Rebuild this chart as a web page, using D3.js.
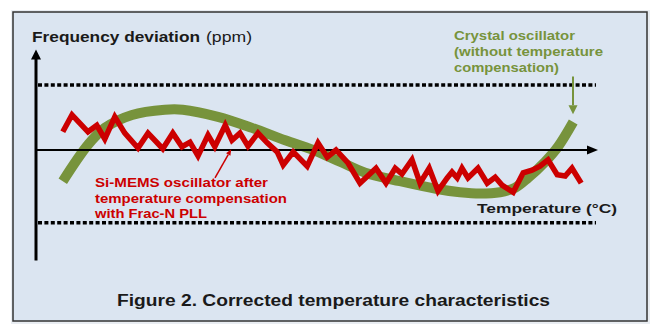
<!DOCTYPE html>
<html><head><meta charset="utf-8">
<script src="https://cdn.jsdelivr.net/npm/d3@7"></script>
<style>
html,body{margin:0;padding:0;background:#fff;}
svg{display:block;font-family:"Liberation Sans",Arial,sans-serif;}
</style></head>
<body>
<svg id="chart" width="660" height="334"></svg>
<script>
// ---- data (temperature °C, frequency deviation ppm) ----
const memsTemp = [-39.8,-37.5,-33.5,-31.3,-29.3,-26.8,-24.3,-21,-18.5,-14.8,-12.3,-10,-8,-6,-3.5,-1.8,0.8,2.5,4.5,6.5,9,11.3,13.8,15.3,17.8,21.3,24,26.3,28.5,31.5,34.5,38.5,41,43.3,45,47.5,49.5,51.8,54,56.3,57.5,58.8,60,61.5,64,66.3,68.3,70,72.8,75.3,77.5,79.5,81.5,83.8,85.8,87.5,89.8];
const memsPpm  = [2.8,5.4,2.8,3.8,1.7,5.1,2.6,0.3,2.6,0.2,2.6,0.5,1.2,-0.9,2.3,0.5,3.8,1.5,2.6,0.6,2.6,1.1,-0.3,-2.3,-0.3,-2.5,1.1,-1.1,0,-2.0,-5.1,-2.8,-5.1,-2.8,-3.7,-1.5,-5.1,-2.8,-6.3,-4.3,-3.4,-4.3,-2.8,-4.3,-2.8,-5.1,-4.2,-5.4,-6.5,-3.5,-3.1,-2.5,-1.5,-3.8,-4.0,-2.8,-5.1];
const crystalTemp = [-39.8,-33.5,-29.3,-22.5,-14.3,-9.8,-1,7.5,15.8,22.8,29.5,35.8,44.5,53.8,59.5,64.5,69.5,73.3,76.5,80.8,84,87.8];
const crystalPpm  = [-4.8,0.8,3.4,5.4,6.2,6.2,5.1,3.4,1.5,0,-1.8,-3.5,-4.8,-6.0,-6.5,-6.7,-6.5,-5.8,-4.3,-1.8,0.5,4.3];
const limitPpm = [10, -11.2];
const axisTempRange = [-46.5, 94];
const axisPpmRange = [-17, 15];
const titleText = ["Frequency deviation", "(ppm)"];
const xLabel = "Temperature (°C)";
const crystalLabel = ["Crystal oscillator", "(without temperature", "compensation)"];
const memsLabel = ["Si-MEMS oscillator after", "temperature compensation", "with Frac-N PLL"];
const caption = "Figure 2. Corrected temperature characteristics";

// ---- scales ----
const x = d3.scaleLinear().domain([-40, 90]).range([62, 582]);
const y = d3.scaleLinear().domain([0, 10]).range([150, 85]);

const svg = d3.select("#chart");
const GREEN = "#77933c", RED = "#cc0000", INK = "#1a1a1a";

// frame
svg.append("rect").attr("x",11).attr("y",10).attr("width",639).attr("height",314).attr("fill","#e9edf2");
svg.append("rect").attr("x",13).attr("y",12).attr("width",634).attr("height",309)
  .attr("fill","#dbe5f1").attr("stroke","#333").attr("stroke-width",1.5);

// dotted limit lines
svg.selectAll("line.limit").data(limitPpm).join("line").attr("class","limit")
  .attr("x1", x(-46)).attr("x2", x(93.5))
  .attr("y1", d=>y(d)).attr("y2", d=>y(d))
  .attr("stroke","#000").attr("stroke-width",3.5).attr("stroke-dasharray","4,2.4");

// crystal curve
const crystal = crystalTemp.map((t,i)=>[t, crystalPpm[i]]);
svg.append("path").datum(crystal)
  .attr("d", d3.line().x(d=>x(d[0])).y(d=>y(d[1])).curve(d3.curveCatmullRom.alpha(0.5)))
  .attr("fill","none").attr("stroke",GREEN).attr("stroke-width",10).attr("stroke-linecap","butt");

// axes
const ax0 = x(axisTempRange[0]), ax1 = x(axisTempRange[1]);
svg.append("line").attr("x1",ax0).attr("x2",ax1-8).attr("y1",y(0)).attr("y2",y(0))
  .attr("stroke","#000").attr("stroke-width",2);
svg.append("path").attr("d",`M${ax1},${y(0)} L${ax1-11},${y(0)-4.5} L${ax1-11},${y(0)+4.5} Z`).attr("fill","#000");
const ay0 = y(axisPpmRange[0]), ay1 = y(axisPpmRange[1]);
svg.append("line").attr("x1",ax0).attr("x2",ax0).attr("y1",ay0).attr("y2",ay1+6)
  .attr("stroke","#000").attr("stroke-width",3);
svg.append("path").attr("d",`M${ax0},${ay1-3} L${ax0-5},${ay1+7} L${ax0+5},${ay1+7} Z`).attr("fill","#000");

// MEMS line
const mems = memsTemp.map((t,i)=>[t, memsPpm[i]]);
svg.append("path").datum(mems)
  .attr("d", d3.line().x(d=>x(d[0])).y(d=>y(d[1])))
  .attr("fill","none").attr("stroke",RED).attr("stroke-width",5.5).attr("stroke-linejoin","miter");

// annotation arrows
function arrow(x1,y1,x2,y2,color,w,hl,hw){
  const a = Math.atan2(y2-y1,x2-x1);
  const bx = x2 - hl*Math.cos(a), by = y2 - hl*Math.sin(a);
  svg.append("line").attr("x1",x1).attr("y1",y1).attr("x2",bx).attr("y2",by)
    .attr("stroke",color).attr("stroke-width",w);
  const px = -Math.sin(a)*hw, py = Math.cos(a)*hw;
  svg.append("path").attr("d",`M${x2},${y2} L${bx+px},${by+py} L${bx-px},${by-py} Z`).attr("fill",color);
}
arrow(x(87.75), y(11.3), x(87.75), y(5.5), GREEN, 2, 9, 4.5);
arrow(x(-1.75), y(-4.3), x(2.3), y(0.1), RED, 1.5, 6, 2.5);

// texts
function txt(s, xp, yp, len, opts){
  const t = svg.append("text").attr("x",xp).attr("y",yp).text(s)
    .attr("font-size",opts.size).attr("font-weight",opts.weight||"bold").attr("fill",opts.fill||INK);
  if(len) t.attr("textLength",len).attr("lengthAdjust","spacingAndGlyphs");
  return t;
}
txt(titleText[0], 32, 42, 168, {size:14});
txt(titleText[1], 206, 42, 46, {size:14, weight:"normal"});
const cl = [[121,40],[149,56],[105,71.5]];
crystalLabel.forEach((s,i)=>txt(s, 454, cl[i][1], cl[i][0], {size:12.5, fill:GREEN}));
const ml = [[173,187],[192,202.5],[112,217.5]];
memsLabel.forEach((s,i)=>txt(s, 95, ml[i][1], ml[i][0], {size:12.5, fill:RED}));
txt(xLabel, 477, 213, 140, {size:13});
txt(caption, 117, 306, 433, {size:16});
</script>
</body></html>
